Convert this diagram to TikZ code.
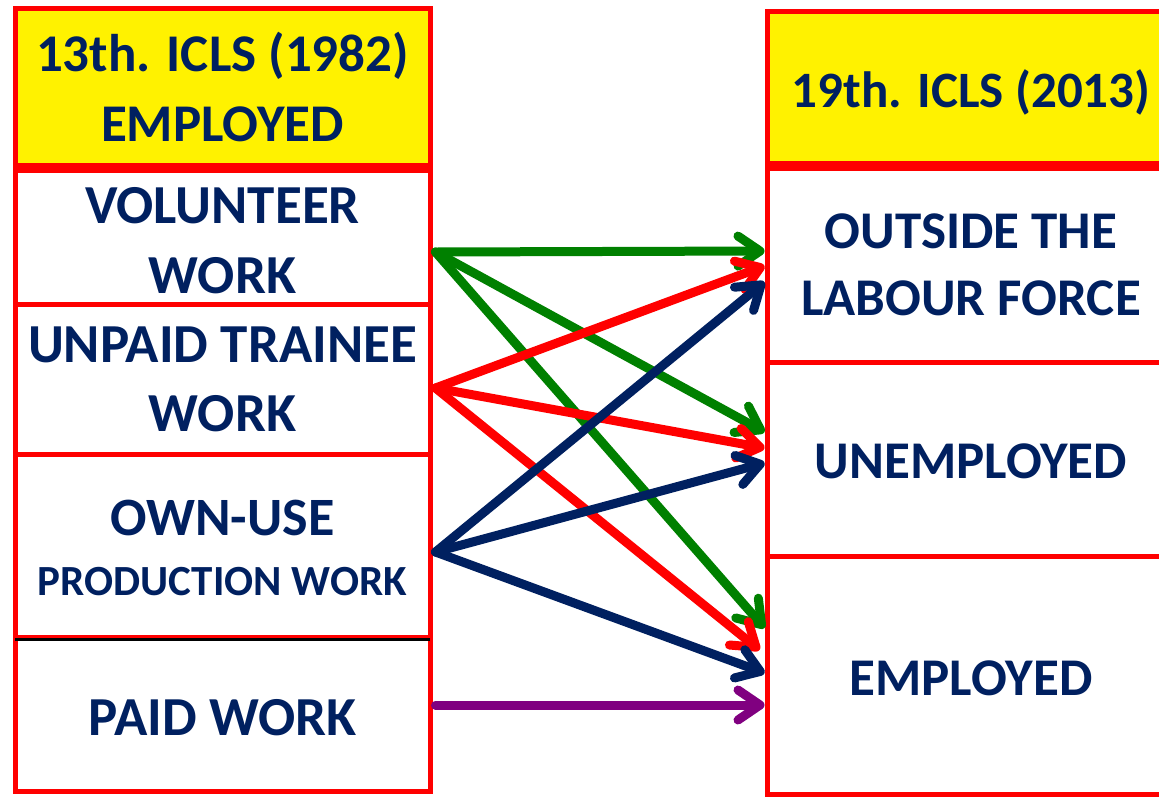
\documentclass[tikz,border=0pt]{standalone}
\usepackage{fontspec}
\setmainfont{Carlito}
\usetikzlibrary{arrows.meta}

\definecolor{navy}{HTML}{002060}
\definecolor{leafgreen}{HTML}{008000}
\definecolor{plum}{HTML}{800080}

\begin{document}
\begin{tikzpicture}[x=1pt,y=-1pt,
    cell/.style={draw=red,line width=5pt,rectangle,inner sep=0pt,align=center,text=navy,
        text height=#1,text depth=0pt,font=\bfseries\fontsize{55}{70}\selectfont},
    rcell/.style={cell=#1,font=\bfseries\fontsize{53}{67}\selectfont},
    header/.style={cell=#1,fill=yellow,font=\bfseries\fontsize{53}{70}\selectfont},
    flow/.style={draw=#1,line width=9pt,line cap=round,-{Straight Barb[length=22pt,width=30pt,round]}}]
\clip (0,0) rectangle (1159,796);
\node[header=109pt,minimum width=415pt,minimum height=157pt] (hl) at (222.5,86.5) {13th. ICLS (1982)\\EMPLOYED};
\node[cell=112pt,minimum width=415pt,minimum height=134pt] (vol) at (222.5,237) {VOLUNTEER\\WORK};
\node[cell=104pt,minimum width=415pt,minimum height=150pt] (unp) at (222.5,379) {UNPAID TRAINEE\\[-1pt]WORK};
\node[cell=99pt,minimum width=415pt,minimum height=183pt] (own) at (222.5,545.5)
    {\fontsize{54}{60}\selectfont OWN-USE\\[-10pt]{\fontsize{43}{60}\selectfont PRODUCTION WORK}};
\node[cell=42pt,minimum width=415pt,minimum height=154pt] (paid) at (222.5,714) {PAID WORK};
\draw[black,line width=3.5pt] ([xshift=2.5pt]own.south west) -- ([xshift=-2.5pt]own.south east);

\node[header=40pt,minimum width=408pt,minimum height=152pt,font=\bfseries\fontsize{51}{60}\selectfont] (hr) at (971,87) {19th. ICLS (2013)};
\node[rcell=100pt,minimum width=408pt,minimum height=194pt] (out) at (971,265) {OUTSIDE THE\\LABOUR FORCE};
\node[rcell=38pt,minimum width=408pt,minimum height=194pt] (une) at (971,459) {UNEMPLOYED};
\node[rcell=40pt,minimum width=408pt,minimum height=238pt] (emp) at (971,675) {EMPLOYED};

\foreach \src/\ys/\dst/\xd/\yd/\col in {vol/-15/out/0/14/leafgreen,vol/-15/une/0/27/leafgreen,vol/-15/emp/0/47/leafgreen,
    unp/-9/out/0/-1/red,unp/-9/une/0/11/red,unp/-9/emp/-5/25/red,
    own/-6.5/out/0/-17/navy,own/-6.5/une/0/-4/navy,own/-6.5/emp/0/2/navy,
    paid/9/emp/0/-30/plum}
    \path[flow=\col] ([xshift=3pt,yshift=\ys pt]\src.east) -- ([xshift=\xd pt,yshift=\yd pt]\dst.west);
\end{tikzpicture}
\end{document}
